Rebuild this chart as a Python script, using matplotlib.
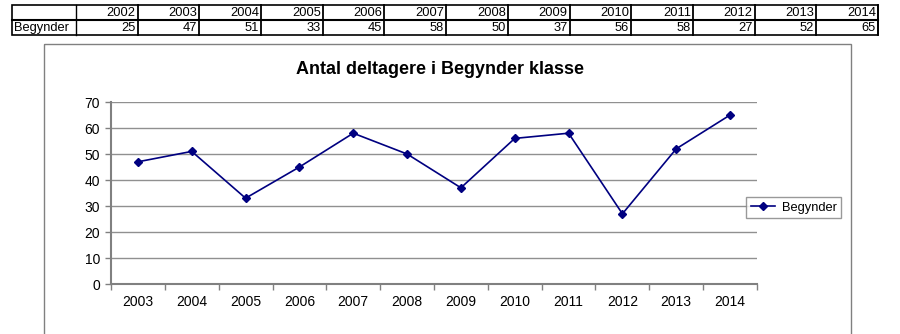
import matplotlib.pyplot as plt
from matplotlib.patches import Rectangle
import numpy as np

plt.rcParams['font.family'] = ['Liberation Sans', 'DejaVu Sans']

# Tabel-data
aar = [2002, 2003, 2004, 2005, 2006, 2007, 2008, 2009, 2010, 2011, 2012, 2013, 2014]
begynder = [25, 47, 51, 33, 45, 58, 50, 37, 56, 58, 27, 52, 65]
serie_navn = 'Begynder'
titel = 'Antal deltagere i Begynder klasse'

W, H = 900, 334
fig = plt.figure(figsize=(W / 100, H / 100), dpi=100)


def px(x0, y0, x1, y1):
    # pixel-rektangel -> figur-koordinater
    return [x0 / W, 1 - y1 / H, (x1 - x0) / W, (y1 - y0) / H]


# --- tabel ovenover ---
tab = fig.add_axes([0, 0, 1, 1])
tab.set_xlim(0, W)
tab.set_ylim(H, 0)
tab.axis('off')
x_start, x_first, x_end = 12, 76, 878
y_top, y_mid, y_bot = 5, 20, 35
col_w = (x_end - x_first) / len(aar)
tab.add_patch(Rectangle((x_start, y_top), x_end - x_start, y_bot - y_top,
                        fill=False, lw=1.2, ec='black'))
tab.plot([x_start, x_end], [y_mid, y_mid], color='black', lw=1.5)
tab.plot([x_first, x_first], [y_top, y_bot], color='black', lw=1)
for i, (a, v) in enumerate(zip(aar, begynder)):
    xr = x_first + (i + 1) * col_w
    tab.plot([xr, xr], [y_top, y_bot], color='black', lw=1.3)
    tab.text(xr - 2, (y_top + y_mid) / 2 + 0.5, str(a), ha='right', va='center', fontsize=9.3)
    tab.text(xr - 2, (y_mid + y_bot) / 2 + 0.5, str(v), ha='right', va='center', fontsize=9.3)
tab.text(x_start + 2, (y_mid + y_bot) / 2 + 0.5, serie_navn, ha='left', va='center', fontsize=9.3)

# ramme om diagrammet
tab.add_patch(Rectangle((44, 44), 851 - 44, 340 - 44, fill=False, lw=1, ec='#808080'))
tab.text(440, 69, titel, ha='center', va='center', fontsize=13, fontweight='bold')

# --- linjediagram ---
ax = fig.add_axes(px(111, 102, 757, 284))
x = np.arange(len(aar) - 1)
ax.plot(x, begynder[1:], color='#000080', lw=1.2, marker='D', markersize=4,
        label=serie_navn)
ax.set_xlim(-0.5, len(x) - 0.5)
ax.set_ylim(0, 70)
ax.set_yticks(range(0, 71, 10))
ax.yaxis.grid(True, color='#909090', lw=1)
ax.set_axisbelow(True)
ax.set_xticks(x)
ax.set_xticklabels([str(a) for a in aar[1:]])
ax.set_xticks(np.arange(-0.5, len(x), 1), minor=True)
ax.tick_params(axis='x', which='major', length=0, pad=8, labelsize=10)
ax.tick_params(axis='x', which='minor', length=4, color='#808080', width=1)
ax.tick_params(axis='y', length=4, color='#808080', width=1, labelsize=10, pad=4)
for s in ['top', 'right']:
    ax.spines[s].set_visible(False)
for s in ['left', 'bottom']:
    ax.spines[s].set_color('#808080')
    ax.spines[s].set_linewidth(1.5)

leg = ax.legend(loc='center left', bbox_to_anchor=(635 / 646, 0.42), frameon=True,
                fancybox=False, edgecolor='#808080', fontsize=9.3, handlelength=1.9,
                handletextpad=0.5, borderpad=0.35, borderaxespad=0)
leg.get_frame().set_linewidth(1)

fig.savefig('out.png', dpi=100)
